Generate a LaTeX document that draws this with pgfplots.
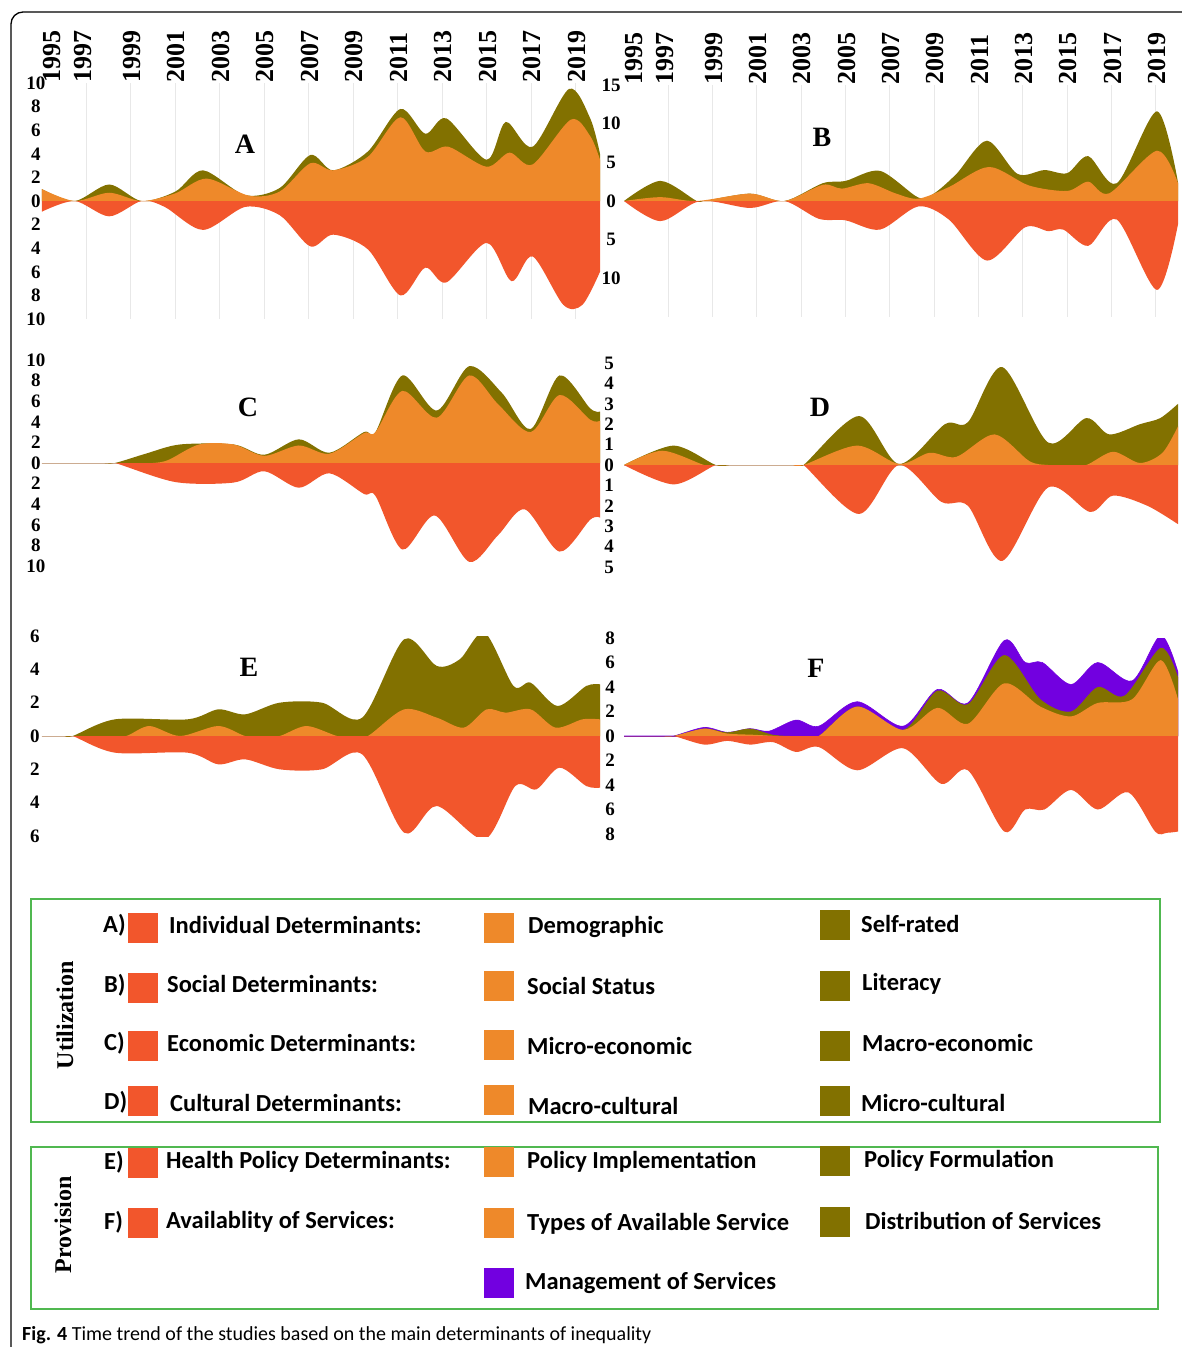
\documentclass[border=0pt]{standalone}
\usepackage{fontspec}
\setmainfont{Liberation Serif}
\newfontfamily\calfont{Carlito}
\usepackage{pgfplots}
\pgfplotsset{compat=1.18}
\definecolor{cred}{RGB}{242,86,44}
\definecolor{corange}{RGB}{238,137,42}
\definecolor{colive}{RGB}{130,113,0}
\definecolor{cpurple}{RGB}{114,0,224}
\definecolor{cgreen}{RGB}{80,184,80}
\definecolor{cgrid}{RGB}{232,232,232}
\pgfplotsset{
  panel/.style={
    scale only axis, xmin=1995, enlargelimits=false,
    axis line style={draw=none},
    major tick length=0pt, minor tick length=0pt,
    xtick=\empty,
    minor xtick={1997,1999,2001,2003,2005,2007,2009,2011,2013,2015,2017,2019},
    xminorgrids=true,
    minor x grid style={color=cgrid, line width=1pt},
    yticklabel style={font=\bfseries\fontsize{19}{19}\selectfont, anchor=center, inner sep=0pt},
  },
  years/.style={
    xtick={1995.4,1996.8,1999,2001,2003,2005,2007,2009,2011,2013,2015,2017,2019},
    xticklabels={1995,1997,1999,2001,2003,2005,2007,2009,2011,2013,2015,2017,2019},
    xticklabel pos=upper,
    xticklabel style={rotate=90, anchor=west, inner sep=0pt, xshift=0pt, yshift=-1pt, font=\bfseries\fontsize{26}{26}\selectfont},
  },
  area/.style={fill=#1, draw=none, smooth},
}
\newcommand{\sq}[3]{\fill[#1] (#2pt,-#3pt) ++(0,15pt) rectangle ++(30pt,-30pt);}
\newcommand{\lab}[3]{\node[anchor=west, inner sep=0pt, font=\calfont\bfseries\fontsize{24.5}{24.5}\selectfont] at (#1pt,-#2pt) {#3};}
\newcommand{\up}{\clip (1990,0) rectangle (2030,30);}
\newcommand{\down}{\clip (1990,0) rectangle (2030,-30);}
\begin{document}
\begin{tikzpicture}
\path[use as bounding box] (0pt,0pt) rectangle (1182pt,-1347pt);
\draw[line width=1.3pt] (11pt,-1347pt) -- (11pt,-24pt) arc[start angle=180,end angle=90,radius=12pt] -- (1182pt,-12pt);

% ---------------- A
\begin{axis}[panel, years, at={(42pt,-319pt)}, anchor=south west, width=558pt, height=236pt,
  xmax=2020.1, ymin=-10, ymax=10,
  ytick={-10,-8,-6,-4,-2,0,2,4,6,8,10}, yticklabels={10,8,6,4,2,0,2,4,6,8,10},
  yticklabel style={xshift=-6pt}]
\begin{scope}\up
\addplot[area=colive] coordinates {(1995.0,1.0)(1996.47,0)(1998.02,1.4)(1999.48,0)(2001.0,0.8)(2002.24,2.6)(2004.14,0.5)(2005.69,1.1)(2007.07,3.9)(2008.1,2.6)(2009.66,4.2)(2011.12,7.8)(2012.24,5.7)(2013.19,7.0)(2015.0,3.5)(2015.86,6.7)(2017.07,4.6)(2018.71,9.5)(2019.66,7.0)(2020.1,4.0)} \closedcycle;
\addplot[area=corange] coordinates {(1995.0,1.0)(1996.47,0)(1998.02,0.7)(1999.48,0)(2001.0,0.65)(2002.41,1.9)(2004.31,0.45)(2005.69,0.8)(2007.07,3.2)(2008.1,2.6)(2009.66,3.75)(2011.12,7.1)(2012.24,4.2)(2013.28,4.6)(2015.0,2.9)(2016.03,4.1)(2017.07,3.1)(2018.79,6.9)(2019.66,5.5)(2020.1,3.5)} \closedcycle;
\end{scope}
\begin{scope}\down
\addplot[area=cred] coordinates {(1995.0,-0.9)(1996.47,0)(1998.02,-1.3)(1999.48,0)(2000.52,-0.5)(2002.24,-2.45)(2004.14,-0.5)(2005.69,-1.2)(2007.07,-3.85)(2008.1,-2.85)(2009.66,-4.1)(2011.12,-8.0)(2012.24,-5.65)(2013.19,-6.9)(2015.0,-3.55)(2016.12,-6.8)(2017.07,-4.7)(2018.45,-8.8)(2019.31,-8.8)(2020.1,-6.0)} \closedcycle;
\end{scope}
\end{axis}

% ---------------- B
\begin{axis}[panel, years, at={(624pt,-317pt)}, anchor=south west, width=554pt, height=232pt,
  xmax=2020, ymin=-15, ymax=15,
  ytick={-10,-5,0,5,10,15}, yticklabels={10,5,0,5,10,15},
  yticklabel style={xshift=-13pt}]
\begin{scope}\up
\addplot[area=colive] coordinates {(1995.0,0)(1996.64,2.6)(1998.28,0)(1998.62,0)(2000.69,0.95)(2002.24,0)(2003.97,2.3)(2005.0,2.6)(2006.55,3.9)(2008.28,0.45)(2009.0,1.0)(2010.0,3.5)(2011.38,7.8)(2012.76,3.5)(2013.97,4.0)(2015.0,3.6)(2015.95,5.8)(2017.24,2.3)(2019.05,11.6)(2020.0,2.4)} \closedcycle;
\addplot[area=corange] coordinates {(1995.0,0)(1996.64,0.5)(1998.28,0)(2000.69,0.95)(2002.24,0)(2003.97,2.1)(2004.83,1.6)(2006.03,2.3)(2007.24,1.0)(2008.28,0.3)(2009.66,1.8)(2011.47,4.4)(2013.28,2.0)(2015.0,1.3)(2015.95,2.5)(2016.9,1.0)(2019.05,6.5)(2020.0,2.3)} \closedcycle;
\end{scope}
\begin{scope}\down
\addplot[area=cred] coordinates {(1995.0,0)(1996.64,-2.6)(1998.45,0)(2000.69,-0.9)(2002.24,0)(2003.79,-2.3)(2005.0,-2.5)(2006.55,-3.7)(2008.28,-0.7)(2009.66,-2.4)(2011.38,-7.7)(2013.1,-3.4)(2014.14,-3.9)(2014.83,-3.7)(2015.95,-5.8)(2017.24,-2.4)(2019.05,-11.5)(2020.0,-3.0)} \closedcycle;
\end{scope}
\end{axis}

% ---------------- C
\begin{axis}[panel, at={(42pt,-566pt)}, anchor=south west, width=558pt, height=206pt,
  xmax=2020.1, ymin=-10, ymax=10,
  ytick={-10,-8,-6,-4,-2,0,2,4,6,8,10}, yticklabels={10,8,6,4,2,0,2,4,6,8,10},
  yticklabel style={xshift=-6pt}]
\addplot[draw=gray!40, line width=1pt] coordinates {(1995,0)(2020.1,0)};
\begin{scope}\up
\addplot[area=colive] coordinates {(1995,0)(1996.0,0)(1997.0,0)(1997.7,0)(1998.28,0)(1999.66,0.9)(2001.21,1.8)(2003.62,1.8)(2005.0,0.8)(2006.55,2.3)(2007.93,1.0)(2009.48,3.0)(2010.0,3.0)(2011.21,8.5)(2012.76,5.1)(2014.22,9.4)(2015.69,6.8)(2016.98,3.3)(2018.28,8.5)(2019.66,5.3)(2020.1,5.0)} \closedcycle;
\addplot[area=corange] coordinates {(1995.0,0)(1996.5,0)(1998.0,0)(1999.3,0)(2000.0,0)(2000.69,0.3)(2002.07,1.8)(2003.62,1.8)(2005.0,0.7)(2006.55,1.7)(2007.93,0.9)(2009.48,2.9)(2010.0,3.0)(2011.21,7.0)(2012.76,4.4)(2014.22,8.5)(2015.52,5.7)(2016.98,3.0)(2018.28,6.6)(2019.66,4.2)(2020.1,4.1)} \closedcycle;
\end{scope}
\begin{scope}\down
\addplot[area=cred] coordinates {(1995.0,0)(1996.0,0)(1997.0,0)(1997.7,0)(1998.28,0)(2001.0,-1.85)(2003.62,-1.9)(2005.0,-0.8)(2006.55,-2.4)(2007.93,-1.0)(2009.48,-3.0)(2010.0,-3.2)(2011.21,-8.4)(2012.67,-5.1)(2014.22,-9.6)(2015.52,-7.0)(2016.72,-4.5)(2018.28,-8.6)(2019.66,-5.5)(2020.1,-5.3)} \closedcycle;
\end{scope}
\end{axis}

% ---------------- D
\begin{axis}[panel, at={(624pt,-567pt)}, anchor=south west, width=554pt, height=204pt,
  xmax=2020, ymin=-5, ymax=5,
  ytick={-5,-4,-3,-2,-1,0,1,2,3,4,5}, yticklabels={5,4,3,2,1,0,1,2,3,4,5},
  yticklabel style={xshift=-15pt}]
\addplot[draw=gray!40, line width=1pt] coordinates {(1995,0)(2020,0)};
\begin{scope}\up
\addplot[area=colive] coordinates {(1995.0,0)(1997.24,0.95)(1999.14,0)(1999.8,0)(2000.6,0)(2001.4,0)(2002.2,0)(2002.7,0)(2003.1,0)(2005.6,2.4)(2007.41,0.05)(2009.48,2.0)(2010.52,2.1)(2012.07,4.8)(2014.14,1.1)(2015.86,2.3)(2016.9,1.5)(2018.28,2.0)(2019.2,2.3)(2020.0,3.0)} \closedcycle;
\addplot[area=corange] coordinates {(1995.0,0)(1996.72,0.7)(1998.62,0)(1999.2,0)(2000.0,0)(2001.0,0)(2002.0,0)(2002.6,0)(2003.1,0)(2005.52,0.95)(2007.41,0.05)(2008.79,0.6)(2010.0,0.4)(2011.72,1.5)(2013.28,0.2)(2014.14,0)(2015.0,0)(2015.86,0)(2017.07,0.65)(2018.28,0.1)(2019.3,0.6)(2020.0,1.9)} \closedcycle;
\end{scope}
\begin{scope}\down
\addplot[area=cred] coordinates {(1995.0,0)(1997.24,-0.95)(1999.14,0)(1999.8,0)(2000.6,0)(2001.4,0)(2002.2,0)(2002.7,0)(2003.1,0)(2005.6,-2.4)(2007.41,0)(2009.31,-1.8)(2010.52,-2.0)(2012.07,-4.7)(2014.14,-1.1)(2016.03,-2.3)(2017.07,-1.5)(2018.62,-2.0)(2020.0,-2.9)} \closedcycle;
\end{scope}
\end{axis}

% ---------------- E
\begin{axis}[panel, at={(42pt,-836pt)}, anchor=south west, width=558pt, height=200pt,
  xmax=2020.1, ymin=-6, ymax=6,
  ytick={-6,-4,-2,0,2,4,6}, yticklabels={6,4,2,0,2,4,6},
  yticklabel style={xshift=-7pt}]
\addplot[draw=gray!40, line width=1pt] coordinates {(1995,0)(2020.1,0)};
\begin{scope}\up
\addplot[area=colive] coordinates {(1995.0,0)(1995.6,0)(1996.0,0)(1996.38,0)(1998.28,1.0)(2001.55,1.0)(2002.93,1.6)(2004.14,1.3)(2005.69,2.0)(2007.59,2.0)(2009.4,1.1)(2011.29,5.8)(2012.76,4.2)(2013.79,4.6)(2014.91,6.2)(2016.21,3.0)(2016.98,3.2)(2018.19,1.8)(2019.48,3.0)(2020.1,3.1)} \closedcycle;
\addplot[area=corange] coordinates {(1995.0,0)(1996.5,0)(1998.0,0)(1998.79,0)(1999.83,0.6)(2001.21,0)(2002.93,0.6)(2004.14,0)(2004.9,0)(2005.69,0)(2006.9,0.6)(2008.28,0)(2009.0,0)(2009.66,0)(2011.29,1.6)(2012.76,1.1)(2013.97,0.5)(2015.0,1.6)(2015.86,1.4)(2016.98,1.6)(2018.1,0.5)(2019.31,1.0)(2020.1,1.0)} \closedcycle;
\end{scope}
\begin{scope}\down
\addplot[area=cred] coordinates {(1995.0,0)(1995.6,0)(1996.0,0)(1996.38,0)(1998.28,-1.0)(2001.55,-1.0)(2002.93,-1.7)(2004.14,-1.4)(2005.69,-2.0)(2007.59,-2.0)(2009.4,-1.1)(2011.29,-5.8)(2012.76,-4.2)(2014.91,-6.2)(2016.29,-3.0)(2017.24,-3.2)(2018.28,-1.9)(2019.48,-3.0)(2020.1,-3.1)} \closedcycle;
\end{scope}
\end{axis}

% ---------------- F
\begin{axis}[panel, at={(624pt,-834pt)}, anchor=south west, width=554pt, height=196pt,
  xmax=2020, ymin=-8, ymax=8,
  ytick={-8,-6,-4,-2,0,2,4,6,8}, yticklabels={8,6,4,2,0,2,4,6,8},
  yticklabel style={xshift=-14pt}]
\addplot[draw=cpurple, line width=1pt] coordinates {(1995,0)(2020,0)};
\begin{scope}\up
\addplot[fill=cpurple, draw=cpurple, line width=0.6pt, smooth] coordinates {(1995.0,0)(1996.0,0)(1996.7,0)(1997.24,0)(1998.62,0.7)(1999.66,0.3)(2000.69,0.6)(2001.55,0.4)(2002.76,1.3)(2003.79,0.8)(2005.52,2.8)(2007.59,0.8)(2009.14,3.8)(2010.52,2.7)(2012.16,7.8)(2013.1,6.0)(2013.88,6.0)(2015.17,4.2)(2016.38,6.0)(2017.93,4.5)(2019.22,8.2)(2020.0,5.2)} \closedcycle;
\addplot[area=colive] coordinates {(1995.0,0)(1996.0,0)(1996.7,0)(1997.24,0)(1998.62,0.6)(1999.66,0.3)(2000.69,0.6)(2001.72,0.1)(2002.5,0)(2003.1,0)(2003.79,0)(2005.52,2.4)(2007.59,0.5)(2009.14,3.7)(2010.52,2.6)(2012.16,6.6)(2013.79,3.0)(2015.17,2.0)(2016.38,4.0)(2017.59,3.3)(2019.22,7.2)(2020.0,4.8)} \closedcycle;
\addplot[area=corange] coordinates {(1995.0,0)(1996.0,0)(1996.7,0)(1997.24,0)(1998.62,0.6)(1999.66,0.2)(2000.86,0.1)(2002.0,0)(2003.1,0)(2003.79,0)(2005.52,2.4)(2007.59,0.5)(2009.14,2.3)(2010.52,1.0)(2012.16,4.3)(2013.79,2.4)(2015.17,1.6)(2016.38,2.7)(2017.93,3.0)(2019.22,6.2)(2020.0,3.0)} \closedcycle;
\end{scope}
\begin{scope}\down
\addplot[area=cred] coordinates {(1995.0,0)(1996.0,0)(1996.7,0)(1997.24,0)(1998.62,-0.7)(1999.66,-0.4)(2000.69,-0.7)(2001.72,-0.5)(2002.76,-1.3)(2003.79,-0.9)(2005.52,-2.8)(2007.59,-1.0)(2009.31,-3.9)(2010.52,-2.8)(2012.16,-7.8)(2013.1,-6.0)(2013.97,-6.0)(2015.17,-4.4)(2016.38,-6.0)(2017.76,-4.6)(2018.97,-7.8)(2019.5,-7.9)(2020.0,-7.8)} \closedcycle;
\end{scope}
\end{axis}

% panel letters
\begin{scope}[font=\bfseries\fontsize{28}{28}\selectfont]
\node at (245pt,-144pt) {A};
\node at (822pt,-137pt) {B};
\node at (248pt,-407pt) {C};
\node at (820pt,-407pt) {D};
\node at (249pt,-667pt) {E};
\node at (816pt,-668pt) {F};
\end{scope}

% legend boxes
\draw[cgreen, line width=2.5pt] (31pt,-899pt) rectangle (1160pt,-1122pt);
\draw[cgreen, line width=2.5pt] (31pt,-1147pt) rectangle (1158pt,-1309pt);
\node[rotate=90, font=\bfseries\fontsize{24}{24}\selectfont] at (65pt,-1015pt) {Utilization};
\node[rotate=90, font=\bfseries\fontsize{24}{24}\selectfont] at (63pt,-1225pt) {Provision};

\sq{cred}{128}{928} \lab{103}{925}{A)} \lab{169}{925}{Individual Determinants:}
\sq{corange}{484}{928} \lab{528}{927}{Demographic}
\sq{colive}{820}{925} \lab{861}{924}{Self-rated}

\sq{cred}{128}{988} \lab{104}{985}{B)} \lab{167}{984}{Social Determinants:}
\sq{corange}{484}{986} \lab{527}{986}{Social Status}
\sq{colive}{820}{986} \lab{862}{984}{Literacy}

\sq{cred}{128}{1046} \lab{104}{1043}{C)} \lab{167}{1043}{Economic Determinants:}
\sq{corange}{484}{1045} \lab{527}{1046}{Micro-economic}
\sq{colive}{820}{1046} \lab{862}{1043}{Macro-economic}

\sq{cred}{128}{1101} \lab{104}{1102}{D)} \lab{170}{1103}{Cultural Determinants:}
\sq{corange}{484}{1100} \lab{528}{1106}{Macro-cultural}
\sq{colive}{820}{1101} \lab{861}{1103}{Micro-cultural}

\sq{cred}{128}{1163} \lab{104}{1162}{E)} \lab{166}{1162}{Health Policy Determinants:}
\sq{corange}{484}{1162} \lab{527}{1162}{Policy Implementation}
\sq{colive}{820}{1161} \lab{864}{1161}{Policy Formulation}

\sq{cred}{128}{1223} \lab{104}{1222}{F)} \lab{166}{1222}{Availablity of Services:}
\sq{corange}{484}{1223} \lab{527}{1224}{Types of Available Service}
\sq{colive}{820}{1222} \lab{865}{1221}{Distribution of Services}

\sq{cpurple}{484}{1283} \lab{525}{1283}{Management of Services}

\node[anchor=base west, inner sep=0pt, font=\calfont\fontsize{20}{20}\selectfont] at (22pt,-1340pt) {\textbf{Fig. 4} Time trend of the studies based on the main determinants of inequality};
\end{tikzpicture}
\end{document}
